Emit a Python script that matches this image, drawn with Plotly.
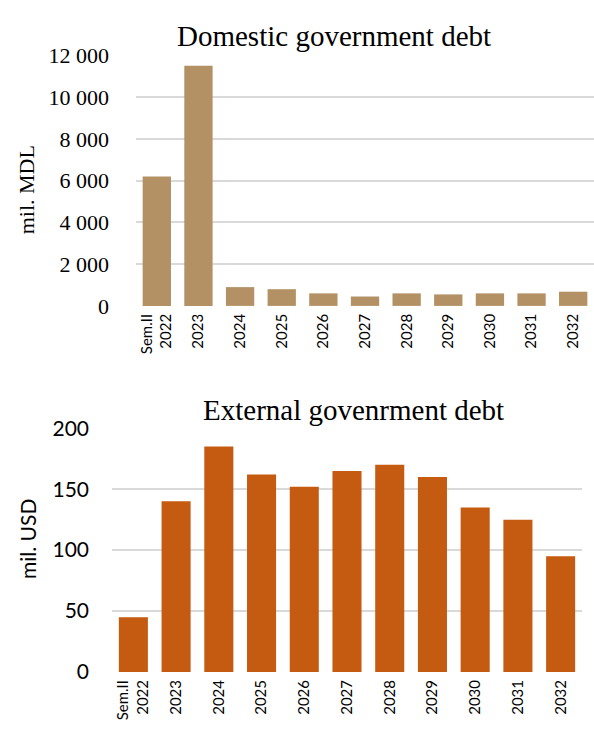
import plotly.graph_objects as go

categories = ["Sem.II<br>2022", "2023", "2024", "2025", "2026", "2027",
              "2028", "2029", "2030", "2031", "2032"]
domestic_debt = [6200, 11500, 900, 800, 600, 450, 600, 550, 600, 600, 680]
external_debt = [45, 140, 185, 162, 152, 165, 170, 160, 135, 125, 95]

domestic_ticks = [0, 2000, 4000, 6000, 8000, 10000, 12000]
domestic_ticktext = ["0", "2 000", "4 000", "6 000", "8 000", "10 000", "12 000"]
external_ticks = [0, 50, 100, 150, 200]

W, H = 594, 737
SERIF = "Liberation Serif, DejaVu Serif, serif"
SANS = "Lato, Liberation Sans, sans-serif"

fig = go.Figure()
fig.add_trace(go.Bar(x=categories, y=domestic_debt, marker_color="#B39164",
                     marker_line_width=0, xaxis="x", yaxis="y"))
fig.add_trace(go.Bar(x=categories, y=external_debt, marker_color="#C55A11",
                     marker_line_width=0, xaxis="x2", yaxis="y2"))

grid = "#D9D9D9"
xcommon = dict(type="category", showgrid=False, showline=False, zeroline=False,
               tickangle=-90, tickfont=dict(family=SANS, size=15, color="#000"),
               ticks="", ticklabelstandoff=4)
ycommon = dict(showgrid=True, gridcolor=grid, gridwidth=1.5, zeroline=False,
               showline=False, ticks="")

fig.update_layout(
    width=W, height=H,
    margin=dict(l=0, r=0, t=0, b=0),
    paper_bgcolor="white", plot_bgcolor="white",
    showlegend=False, bargap=0.32,
    xaxis=dict(xcommon, domain=[136 / W, 1.0], anchor="y"),
    yaxis=dict(ycommon, domain=[1 - 303 / H, 1 - 43 / H], range=[0, 12000],
               tickvals=domestic_ticks, ticktext=domestic_ticktext,
               tickfont=dict(family=SERIF, size=22, color="#000"),
               ticklabelstandoff=26, anchor="x"),
    xaxis2=dict(xcommon, domain=[112 / W, 582 / W], anchor="y2"),
    yaxis2=dict(ycommon, domain=[1 - 683 / H, 1 - 430 / H], range=[0, 200],
                tickvals=external_ticks,
                tickfont=dict(family=SANS, size=21, color="#000"),
                ticklabelstandoff=22, anchor="x2"),
    annotations=[
        dict(text="Domestic government debt", x=334 / W, y=1 - 23 / H,
             xref="paper", yref="paper", showarrow=False,
             xanchor="center", yanchor="middle",
             font=dict(family=SERIF, size=29, color="#000")),
        dict(text="External govenrment debt", x=353 / W, y=1 - 411 / H,
             xref="paper", yref="paper", showarrow=False,
             xanchor="center", yanchor="middle",
             font=dict(family=SERIF, size=29, color="#000")),
        dict(text="mil. MDL", x=26 / W, y=1 - 183 / H, textangle=-90,
             xref="paper", yref="paper", showarrow=False,
             xanchor="center", yanchor="middle",
             font=dict(family=SERIF, size=22, color="#000")),
        dict(text="mil. USD", x=27 / W, y=1 - 545 / H, textangle=-90,
             xref="paper", yref="paper", showarrow=False,
             xanchor="center", yanchor="middle",
             font=dict(family=SANS, size=21, color="#000")),
    ],
)

fig.write_html("out.html")
